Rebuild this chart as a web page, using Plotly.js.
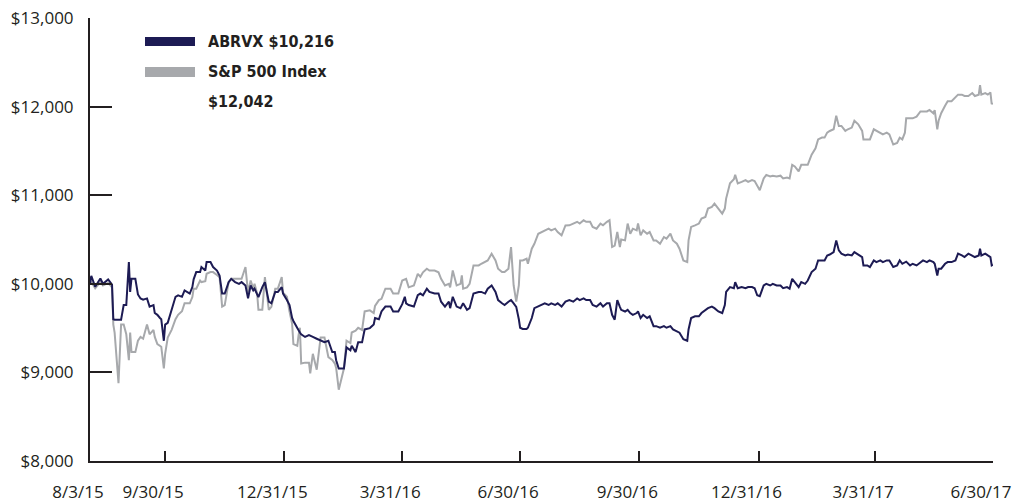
<!DOCTYPE html>
<html>
<head>
<meta charset="utf-8">
<script src="https://cdn.plot.ly/plotly-3.0.1.min.js"></script>
<style>
  html, body { margin: 0; padding: 0; background: #ffffff; }
  #chart { width: 1022px; height: 502px; }
</style>
</head>
<body>
<div id="chart"></div>
<script>
// ---- Data ----
const startDate = [2015, 7, 3]; // 8/3/2015 (month is 0-based)
const seriesNames = ['ABRVX', 'S&P 500 Index'];

// days since 8/3/2015
const dayOffsets = [
  0,1,4,8,10,14,17,18,19,22,24,26,28,30,31,32,35,37,39,41,44,46,49,50,52,54,55,57,58,60,63,66,68,71,73,77,79,80,82,85,86,89,90,93,95,98,100,102,104,107,109,112,115,117,120,122,124,126,
  127,129,130,133,135,138,140,143,145,148,149,152,154,156,157,160,161,162,163,166,169,170,172,175,178,181,184,187,189,190,192,196,198,201,202,205,207,210,212,216,219,220,223,225,228,232,234,238,241,243,244,246,250,253,
  255,257,260,262,266,269,271,274,277,278,280,283,286,287,288,291,293,296,300,302,305,307,310,313,315,318,320,323,325,327,329,331,332,334,337,338,341,343,346,349,351,354,356,359,361,364,367,370,
  373,376,378,381,383,386,388,391,394,396,399,401,403,405,407,409,410,413,415,417,419,422,423,425,427,430,432,435,437,440,443,445,448,450,453,455,458,461,462,464,467,470,472,475,477,480,482,485,488,490,491,494,
  497,498,500,503,506,508,511,513,515,517,520,522,525,527,530,533,535,538,540,542,544,547,549,552,554,557,560,562,565,567,569,571,574,576,578,580,583,585,588,590,593,596,597,600,602,605,607,610,612,615,617,620,623,625,627,629,630,633,635,638,641,643,646,648,651,652,654,655,657,660,662,665,668,670,673,675,678,681,683,686,687,688,691,693,695,696,697
];

const abrvxValues = [
  10000,10090,9967,10060,10000,10050,9990,9600,9595,9595,9595,9760,9760,10245,9908,10056,10056,9880,9835,9820,9835,9743,9760,9670,9650,9614,9600,9357,9540,9560,9706,9853,9870,9853,9926,9890,9963,10050,10132,10132,10189,10150,10245,10245,10189,10150,10094,9890,9890,10019,10056,10019,10000,10019,9981,9835,9981,9926,
  9945,9890,9850,9963,10019,9798,9780,9908,9908,9963,9890,9816,9761,9614,9580,9500,9467,9450,9430,9400,9420,9410,9400,9380,9357,9340,9357,9229,9229,9137,9044,9044,9283,9250,9300,9229,9339,9339,9485,9500,9540,9614,9600,9688,9743,9743,9688,9688,9770,9853,9780,9760,9743,9871,
  9890,9871,9945,9908,9890,9890,9798,9743,9798,9725,9853,9743,9725,9760,9780,9706,9725,9890,9908,9908,9890,9945,9981,9908,9816,9780,9761,9798,9816,9780,9740,9600,9504,9490,9490,9504,9614,9725,9743,9761,9780,9761,9780,9761,9780,9743,9798,9816,
  9798,9835,9816,9835,9816,9816,9761,9743,9780,9743,9780,9780,9650,9595,9816,9740,9706,9687,9706,9670,9650,9670,9690,9614,9650,9614,9633,9522,9522,9504,9522,9504,9522,9485,9467,9448,9375,9357,9485,9614,9633,9633,9670,9706,9725,9743,9725,9688,9670,9761,9908,9963,
  9950,10019,9950,9963,9950,9963,9963,9950,9871,9860,9981,10000,9981,10000,9981,9981,9950,9963,9945,10056,10019,9963,10019,10000,10037,10132,10170,10264,10264,10264,10320,10330,10358,10490,10377,10340,10320,10330,10320,10358,10330,10302,10207,10207,10189,10264,10245,10264,10245,10264,10264,10189,10207,10264,10226,10245,10250,10207,10226,10207,10245,10264,10245,10264,10245,10226,10094,10170,10170,10226,10245,10245,10264,10340,10320,10302,10340,10320,10302,10320,10396,10320,10340,10320,10302,10207,10216
];

const sp500Values = [
  10000,10020,9950,10020,9980,10010,9960,9540,9449,8879,9540,9540,9430,9137,9450,9229,9229,9357,9400,9380,9540,9430,9480,9400,9320,9300,9290,9044,9210,9394,9480,9600,9650,9690,9780,9780,9850,9945,9945,10037,10020,10030,10113,10132,10132,10100,10075,9743,9760,10019,10056,10056,10056,10056,10189,9900,10037,9945,
  10000,9890,9706,9706,10075,9706,9740,9945,9945,10075,9900,9853,9688,9550,9320,9300,9420,9504,9100,9110,9110,8989,9210,9030,9394,9394,9173,9140,9100,9050,8805,9044,9357,9330,9450,9470,9504,9480,9688,9700,9670,9750,9816,9830,9945,9945,9890,9890,10037,10050,10056,9960,9980,10113,
  10080,10130,10170,10150,10150,10130,10056,9981,10000,9960,10150,9981,10000,10094,9945,9960,10000,10207,10207,10226,10245,10264,10339,10264,10170,10132,10132,10170,10415,9981,9798,9981,10264,10264,10283,10226,10396,10452,10565,10584,10603,10622,10603,10622,10584,10547,10659,10660,
  10680,10700,10680,10717,10700,10700,10642,10622,10680,10660,10700,10717,10415,10430,10585,10415,10500,10490,10680,10565,10622,10603,10680,10547,10603,10566,10584,10490,10490,10452,10528,10510,10566,10490,10452,10396,10264,10245,10490,10642,10660,10680,10736,10755,10849,10868,10905,10849,10793,10849,10962,11134,
  11180,11229,11134,11150,11170,11150,11170,11160,11100,11057,11190,11229,11211,11220,11211,11220,11190,11200,11190,11343,11325,11268,11343,11343,11343,11458,11530,11630,11650,11650,11706,11725,11744,11897,11782,11782,11725,11744,11763,11840,11800,11725,11630,11630,11630,11744,11725,11706,11687,11706,11687,11572,11590,11650,11630,11706,11868,11868,11868,11887,11945,11945,11945,11963,11925,11960,11744,11840,11925,12010,12060,12060,12100,12135,12135,12120,12120,12153,12120,12135,12243,12135,12153,12135,12160,12028,12042
];

const xTickDates  = ['2015-08-03','2015-09-30','2015-12-31','2016-03-31','2016-06-30','2016-09-30','2016-12-31','2017-03-31','2017-06-30'];
const xTickLabels = ['8/3/15','9/30/15','12/31/15','3/31/16','6/30/16','9/30/16','12/31/16','3/31/17','6/30/17'];
const yTickValues = [8000, 9000, 10000, 11000, 12000, 13000];
const yTickLabels = ['$8,000', '$9,000', '$10,000', '$11,000', '$12,000', '$13,000'];

// ---- Build ----
const base = Date.UTC(startDate[0], startDate[1], startDate[2]);
const dates = dayOffsets.map(d => new Date(base + d * 86400000).toISOString().slice(0, 10));

const NAVY = '#1d1b54';
const GRAY = '#a7a9ac';
const INK = '#231f20';

const fmt = v => '$' + v.toLocaleString('en-US');

const traces = [
  { x: dates, y: sp500Values, type: 'scatter', mode: 'lines', name: seriesNames[1],
    line: { color: GRAY, width: 2 }, hoverinfo: 'skip' },
  { x: dates, y: abrvxValues, type: 'scatter', mode: 'lines', name: seriesNames[0],
    line: { color: NAVY, width: 2 }, hoverinfo: 'skip' }
];

const L = 90, R = 29, T = 18, B = 41;
const plotW = 1022 - L - R, plotH = 502 - T - B;
const px = x => (x - L) / plotW;
const py = y => (502 - B - y) / plotH;

const legendFont = { family: 'DejaVu Sans Condensed, Liberation Sans Narrow, sans-serif', size: 16, color: INK };
const tickFont = { family: 'Open Sans, sans-serif', size: 17, color: INK };

const layout = {
  width: 1022, height: 502,
  margin: { l: L, r: R, t: T, b: B, pad: 0 },
  paper_bgcolor: '#ffffff', plot_bgcolor: '#ffffff',
  showlegend: false,
  font: tickFont,
  xaxis: {
    type: 'date',
    range: [xTickDates[0], xTickDates[xTickDates.length - 1]],
    tickmode: 'array', tickvals: xTickDates, ticktext: xTickLabels,
    ticks: 'inside', ticklen: 10, tickwidth: 2, tickcolor: INK,
    showline: true, linewidth: 2, linecolor: INK,
    showgrid: false, zeroline: false,
    ticklabelstandoff: 15, ticklabelshift: -12,
    tickfont: tickFont,
    fixedrange: true
  },
  yaxis: {
    range: [yTickValues[0], yTickValues[yTickValues.length - 1]],
    tickmode: 'array', tickvals: yTickValues, ticktext: yTickLabels,
    ticks: 'inside', ticklen: 22, tickwidth: 2, tickcolor: INK,
    showline: true, linewidth: 2, linecolor: INK,
    showgrid: false, zeroline: false,
    ticklabelstandoff: 11,
    tickfont: tickFont,
    fixedrange: true
  },
  shapes: [
    { type: 'rect', xref: 'paper', yref: 'paper', x0: px(145), x1: px(195), y0: py(46), y1: py(37),
      fillcolor: NAVY, line: { width: 0 } },
    { type: 'rect', xref: 'paper', yref: 'paper', x0: px(145), x1: px(195), y0: py(77), y1: py(67),
      fillcolor: GRAY, line: { width: 0 } }
  ],
  annotations: [
    { xref: 'paper', yref: 'paper', x: px(206), y: py(42), xanchor: 'left', yanchor: 'middle', showarrow: false,
      text: '<b>' + seriesNames[0] + ' ' + fmt(abrvxValues[abrvxValues.length - 1]) + '</b>', font: legendFont },
    { xref: 'paper', yref: 'paper', x: px(206), y: py(72), xanchor: 'left', yanchor: 'middle', showarrow: false,
      text: '<b>' + seriesNames[1].replace('&', '&amp;') + '</b>', font: legendFont },
    { xref: 'paper', yref: 'paper', x: px(206), y: py(101), xanchor: 'left', yanchor: 'middle', showarrow: false,
      text: '<b>' + fmt(sp500Values[sp500Values.length - 1]) + '</b>', font: legendFont }
  ]
};

Plotly.newPlot('chart', traces, layout, { staticPlot: true, displayModeBar: false });
</script>
</body>
</html>
